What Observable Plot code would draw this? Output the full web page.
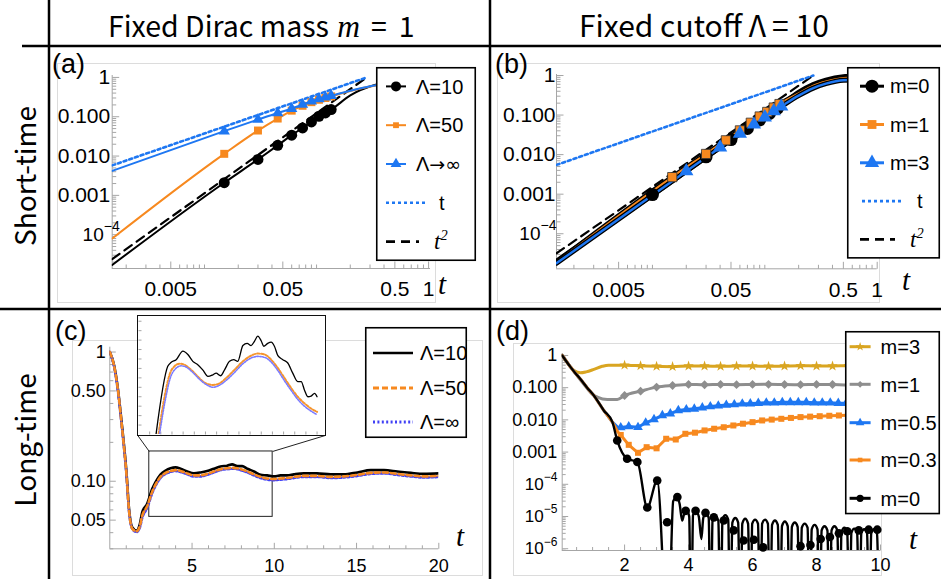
<!DOCTYPE html>
<html><head><meta charset="utf-8">
<script src="https://cdn.jsdelivr.net/npm/d3@7"></script>
<script src="https://cdn.jsdelivr.net/npm/@observablehq/plot@0.6"></script>
<style>
body{margin:0;background:#fff;}
#root{position:relative;width:941px;height:579px;overflow:hidden;background:#fff;}
</style></head>
<body><div id="root"></div>
<script>
// ---------------- DATA ----------------
// Panel (a): fixed Dirac mass m=1, short time  [t, value]
const aLam10 = [[0.0015,1.7e-5],[0.015,0.0021],[0.03,0.0082],[0.045,0.0187],[0.06,0.034],[0.075,0.052],[0.09,0.074],[0.105,0.103],[0.12,0.125],[0.135,0.152],[0.2,0.35],[0.33,0.64],[0.45,0.78],[0.6,0.87],[0.8,0.92],[1.04,0.94]];
const aLam50 = [[0.0015,8e-5],[0.015,0.0114],[0.03,0.0446],[0.045,0.09],[0.06,0.143],[0.075,0.19],[0.09,0.235],[0.105,0.27],[0.12,0.3],[0.135,0.33],[0.2,0.45],[0.3,0.59],[0.5,0.72],[1.04,0.79]];
const aLamInf = [[0.0015,0.0042],[0.015,0.043],[0.03,0.085],[0.045,0.125],[0.06,0.161],[0.075,0.204],[0.09,0.247],[0.105,0.282],[0.12,0.312],[0.135,0.344],[0.2,0.46],[0.3,0.6],[0.5,0.73],[1.04,0.8]];
const aRefT = [[0.0015,0.0058],[0.28,1.0]];
const aRefT2 = [[0.0015,2.4e-5],[0.28,1.0]];
const aMarkRange = [0.01, 0.14];
const aYLabels = [{v:1,s:"1"},{v:0.1,s:"0.100"},{v:0.01,s:"0.010"},{v:0.001,s:"0.001"},{v:1e-4,s:"10",exp:"−4"}];
const abXLabels = [{v:0.005,s:"0.005"},{v:0.05,s:"0.05"},{v:0.5,s:"0.5"},{v:1,s:"1"}];

// Panel (b): fixed cutoff Λ=10, short time
const bM0 = [[0.0014,2.0e-5],[0.01,0.00098],[0.03,0.0088],[0.05,0.024],[0.07,0.046],[0.09,0.075],[0.11,0.11],[0.13,0.15],[0.2,0.37],[0.27,0.58],[0.35,0.75],[0.5,0.92],[0.6,0.95],[0.75,0.93],[1.0,0.86]];
const bM1 = [[0.0014,1.9e-5],[0.015,0.0027],[0.03,0.0104],[0.045,0.023],[0.06,0.041],[0.075,0.064],[0.09,0.092],[0.105,0.12],[0.12,0.155],[0.135,0.19],[0.2,0.35],[0.27,0.55],[0.35,0.7],[0.5,0.86],[0.6,0.88],[0.75,0.86],[1.0,0.8]];
const bM3 = [[0.0014,1.8e-5],[0.02,0.0038],[0.04,0.0152],[0.06,0.034],[0.08,0.058],[0.1,0.088],[0.12,0.125],[0.14,0.165],[0.2,0.31],[0.27,0.48],[0.35,0.62],[0.5,0.76],[0.6,0.77],[0.75,0.74],[1.0,0.66]];
const bRefT = [[0.0014,0.0055],[0.27,1.0]];
const bRefT2 = [[0.0014,3.2e-5],[0.27,1.0]];
const bMarkRange = [0.005, 0.15];

// Panel (c): fixed m=1, long time
const cLam10 = [[0,1.0],[0.25,0.8],[0.45,0.57],[0.75,0.262],[1.02,0.114],[1.16,0.063],[1.36,0.044],[1.62,0.0415],[1.83,0.0468],[1.97,0.0575],[2.27,0.0668],[2.58,0.0873],[2.78,0.0984],[3.08,0.1127],[3.39,0.121],[3.69,0.126],[4.0,0.128],[4.3,0.125],[4.71,0.119],[5.11,0.1153],[5.52,0.117],[5.92,0.12],[6.33,0.125],[6.73,0.13],[7.14,0.132],[7.44,0.135],[7.75,0.131],[8.05,0.131],[8.36,0.125],[8.76,0.119],[9.17,0.112],[9.57,0.111],[9.98,0.109],[10.38,0.111],[10.79,0.111],[11.19,0.113],[11.8,0.115],[12.6,0.115],[13.42,0.113],[14.23,0.113],[15.05,0.117],[15.86,0.122],[16.67,0.122],[17.48,0.119],[18.3,0.116],[19.1,0.114],[20,0.115]];
const cLam50 = [[0,1.0],[0.25,0.79],[0.45,0.56],[0.75,0.255],[1.02,0.11],[1.16,0.061],[1.36,0.043],[1.62,0.041],[1.83,0.045],[1.97,0.054],[2.27,0.064],[2.58,0.083],[2.78,0.094],[3.08,0.108],[3.39,0.116],[3.69,0.12],[4.0,0.122],[4.3,0.12],[4.71,0.115],[5.11,0.111],[5.52,0.111],[5.92,0.114],[6.33,0.119],[6.73,0.124],[7.14,0.126],[7.44,0.127],[7.75,0.126],[8.05,0.123],[8.36,0.119],[8.76,0.113],[9.17,0.108],[9.57,0.105],[9.98,0.104],[10.38,0.105],[10.79,0.106],[11.19,0.108],[11.8,0.11],[12.6,0.11],[13.42,0.108],[14.23,0.109],[15.05,0.112],[15.86,0.116],[16.67,0.117],[17.48,0.114],[18.3,0.111],[19.1,0.109],[20,0.11]];
const cLamInf = [[0,1.0],[0.25,0.78],[0.45,0.55],[0.75,0.25],[1.02,0.108],[1.16,0.06],[1.36,0.043],[1.62,0.0405],[1.83,0.044],[1.97,0.052],[2.27,0.062],[2.58,0.081],[2.78,0.092],[3.08,0.106],[3.39,0.114],[3.69,0.118],[4.0,0.12],[4.3,0.118],[4.71,0.113],[5.11,0.109],[5.52,0.109],[5.92,0.112],[6.33,0.117],[6.73,0.122],[7.14,0.124],[7.44,0.125],[7.75,0.124],[8.05,0.121],[8.36,0.117],[8.76,0.111],[9.17,0.106],[9.57,0.103],[9.98,0.102],[10.38,0.103],[10.79,0.104],[11.19,0.106],[11.8,0.108],[12.6,0.108],[13.42,0.106],[14.23,0.107],[15.05,0.11],[15.86,0.114],[16.67,0.115],[17.48,0.112],[18.3,0.109],[19.1,0.107],[20,0.108]];
const cZoomBox = [{t1:2.4, t2:9.9, y1:0.053, y2:0.17}];
const cConnectors = [{t1:2.4,y1:0.17,t2:1.7,y2:0.226},{t1:9.9,y1:0.17,t2:13.1,y2:0.226}];
const cYLabels = [{v:1,s:"1"},{v:0.5,s:"0.50"},{v:0.1,s:"0.10"},{v:0.05,s:"0.05"}];
const cXLabels = [{v:5,s:"5"},{v:10,s:"10"},{v:15,s:"15"},{v:20,s:"20"}];
// inset of (c)
const insetLam10 = [[3.11,0.0903],[3.58,0.1189],[3.72,0.1206],[3.92,0.1217],[4.19,0.1253],[4.39,0.1239],[4.59,0.121],[4.79,0.1196],[4.99,0.1174],[5.2,0.1146],[5.4,0.1153],[5.53,0.116],[5.71,0.1149],[5.87,0.1174],[6.07,0.121],[6.24,0.1217],[6.4,0.121],[6.61,0.1277],[6.78,0.1286],[6.94,0.1277],[7.08,0.1296],[7.21,0.1317],[7.35,0.1296],[7.45,0.1274],[7.61,0.1286],[7.75,0.1291],[7.88,0.1274],[8.02,0.1234],[8.22,0.1217],[8.42,0.1203],[8.62,0.116],[8.82,0.1124],[8.96,0.1124],[9.09,0.1089],[9.23,0.106],[9.36,0.1063],[9.5,0.1074],[9.6,0.106]];
const insetLam50 = [[3.21,0.0903],[3.45,0.106],[3.65,0.1153],[3.85,0.1189],[4.05,0.12],[4.25,0.1196],[4.52,0.1174],[4.79,0.1146],[5.06,0.112],[5.4,0.111],[5.67,0.1117],[5.93,0.1139],[6.27,0.1174],[6.61,0.121],[6.94,0.1234],[7.21,0.1243],[7.48,0.1239],[7.75,0.1217],[8.02,0.1181],[8.29,0.1139],[8.56,0.1096],[8.82,0.106],[9.09,0.1032],[9.36,0.101],[9.6,0.0996]];
const insetLamInf = [[3.25,0.0903],[3.48,0.1046],[3.68,0.1139],[3.88,0.1177],[4.12,0.1191],[4.32,0.1186],[4.59,0.1163],[4.86,0.1134],[5.13,0.1112],[5.4,0.11],[5.67,0.1109],[5.93,0.1129],[6.27,0.1163],[6.61,0.12],[6.94,0.1224],[7.21,0.1231],[7.48,0.1227],[7.75,0.1207],[8.02,0.1171],[8.29,0.1127],[8.56,0.1086],[8.82,0.1049],[9.09,0.102],[9.36,0.0999],[9.6,0.0984]];

// Panel (d): fixed Λ=10, long time
const dM3 = [[0.05,1],[0.3,0.45],[0.42,0.34],[0.62,0.29],[0.8,0.31],[1.04,0.37],[1.3,0.46],[1.5,0.5],[2.0,0.5],[2.5,0.48],[3.0,0.46],[3.5,0.45],[4.0,0.47],[4.5,0.47],[5.0,0.46],[5.5,0.47],[6.0,0.47],[6.5,0.46],[7.0,0.47],[7.5,0.48],[8.0,0.47],[8.5,0.47],[9.0,0.48],[9.5,0.47],[10,0.47]];
const dM1 = [[0.05,1],[0.3,0.45],[0.45,0.29],[0.63,0.17],[0.83,0.095],[1.0,0.062],[1.15,0.051],[1.46,0.043],[1.77,0.043],[2.0,0.057],[2.5,0.078],[3.0,0.104],[3.5,0.117],[4.0,0.126],[4.5,0.123],[5.0,0.126],[5.5,0.124],[6.0,0.126],[6.5,0.127],[7.0,0.125],[7.5,0.124],[8.0,0.126],[8.5,0.125],[9.0,0.122],[9.5,0.124],[10,0.125]];
const dM05 = [[0.05,1],[0.3,0.45],[0.45,0.29],[0.63,0.18],[0.83,0.1],[1.04,0.057],[1.35,0.0196],[1.62,0.0085],[1.79,0.0059],[1.88,0.0058],[2.13,0.0062],[2.42,0.0059],[2.66,0.0081],[2.92,0.0103],[3.18,0.0138],[3.43,0.0156],[3.68,0.0196],[3.93,0.021],[4.18,0.022],[4.43,0.024],[4.68,0.026],[4.93,0.0275],[5.18,0.029],[5.43,0.03],[5.68,0.0316],[5.93,0.032],[6.18,0.033],[6.43,0.034],[6.68,0.034],[6.93,0.035],[7.18,0.035],[7.43,0.035],[7.68,0.035],[7.93,0.034],[8.18,0.034],[8.43,0.034],[8.68,0.033],[8.93,0.033],[9.18,0.033],[9.43,0.032],[9.68,0.032],[9.93,0.032]];
const dM03 = [[0.05,1],[0.3,0.45],[0.45,0.29],[0.63,0.18],[0.83,0.1],[1.04,0.057],[1.35,0.0196],[1.62,0.0085],[1.79,0.0042],[1.88,0.0034],[2.13,0.00168],[2.42,0.00095],[2.69,0.00142],[3.0,0.00131],[3.3,0.00259],[3.6,0.00246],[3.9,0.0037],[4.2,0.004],[4.5,0.0047],[4.8,0.0053],[5.1,0.0059],[5.4,0.0067],[5.7,0.0076],[6.0,0.0085],[6.3,0.0096],[6.6,0.0102],[6.9,0.0108],[7.2,0.0115],[7.5,0.0122],[7.8,0.0126],[8.1,0.013],[8.4,0.0134],[8.7,0.0137],[9.0,0.014],[9.3,0.0141],[9.6,0.0142],[9.9,0.0143]];
const dM0 = [[0.05,1],[0.3,0.45],[0.45,0.29],[0.63,0.18],[0.83,0.1],[1.04,0.057],[1.35,0.0196],[1.62,0.0085],[1.77,0.0023],[2.08,6.2e-4],[2.4,4.9e-4],[2.71,1.9e-5],[3.02,1.3e-4],[3.36,1e-9],
  [3.52,3e-5],[3.63,4e-5],[3.72,2.5e-5],[3.8,7.5e-6],[3.86,1.2e-5],[3.94,1.6e-5],[4.02,1e-5],[4.08,1e-9],
  [4.14,1.1e-5],[4.23,1.5e-5],[4.32,1e-5],[4.4,2e-6],[4.46,9e-6],[4.54,1.3e-5],[4.63,9e-6],[4.69,1e-9],
  [4.75,7.5e-6],[4.84,1e-5],[4.93,7.5e-6],[5.0,1e-9],[5.06,8e-6],[5.15,1.1e-5],[5.24,8e-6],[5.3,1e-9],
  [5.37,6.5e-6],[5.46,9e-6],[5.55,6.5e-6],[5.62,1e-9],[5.68,6e-6],[5.77,8.5e-6],[5.86,6e-6],[5.93,1e-9],
  [5.99,6e-6],[6.08,8e-6],[6.17,6e-6],[6.24,1e-9],[6.3,6e-6],[6.39,8e-6],[6.48,6e-6],[6.55,1e-9],
  [6.61,5.5e-6],[6.7,7.5e-6],[6.79,5.5e-6],[6.86,1e-9],[6.92,5e-6],[7.01,7e-6],[7.1,5e-6],[7.17,1e-9],
  [7.23,4.8e-6],[7.32,6.5e-6],[7.41,4.8e-6],[7.48,1e-9],[7.54,4.5e-6],[7.63,6e-6],[7.72,4.5e-6],[7.79,1e-9],
  [7.85,4e-6],[7.94,5.5e-6],[8.03,4e-6],[8.1,1e-9],[8.16,3.7e-6],[8.25,5e-6],[8.34,3.7e-6],[8.41,1e-9],
  [8.47,3.7e-6],[8.56,5e-6],[8.65,3.7e-6],[8.72,1e-9],[8.78,3.3e-6],[8.87,4.5e-6],[8.96,3.3e-6],[9.03,1e-9],
  [9.09,3.1e-6],[9.18,4.2e-6],[9.27,3.1e-6],[9.34,1e-9],[9.4,3e-6],[9.49,4e-6],[9.58,3e-6],[9.65,1e-9],
  [9.71,3e-6],[9.8,4e-6],[9.89,3e-6],[9.96,1e-9]];
const dM0Markers = [[1.77,0.0023],[2.08,6.2e-4],[2.4,4.9e-4],[2.71,1.9e-5],[3.02,1.3e-4],[3.33,6.6e-6],[3.65,4e-5],[3.91,1.5e-5],[4.22,1.5e-5],[4.53,1.3e-5],[4.79,9.4e-6],[5.1,7.5e-6],[5.41,3.7e-6],[5.72,1.8e-6],[6.04,1.9e-6],[6.33,1.1e-6],[7.5,1.2e-6],[7.81,1.3e-6],[8.13,2e-6],[8.42,2.3e-6],[8.7,3e-6],[8.96,3.5e-6],[9.32,3.7e-6],[9.63,3.9e-6],[9.9,3.9e-6]];
const dMarkStart = 1.85;
const dYLabels = [{v:1,s:"1"},{v:0.1,s:"0.100"},{v:0.01,s:"0.010"},{v:0.001,s:"0.001"},{v:1e-4,s:"10",exp:"−4"},{v:1e-5,s:"10",exp:"−5"},{v:1e-6,s:"10",exp:"−6"}];
const dXLabels = [{v:2,s:"2"},{v:4,s:"4"},{v:6,s:"6"},{v:8,s:"8"},{v:10,s:"10"}];

// ---------------- STYLE ----------------
const FONT = '"Liberation Sans", Arial, Helvetica, sans-serif';
const SERIF = '"Liberation Serif", "DejaVu Serif", "Times New Roman", serif';
const HFONT = '"Noto Sans CJK JP", "Noto Sans", sans-serif';
const BLACK = "#000", ORANGE = "#f7891f", BLUE = "#1e77f2", DBLUE = "#4040f5", GOLD = "#d9a521", GRAY = "#8e8e8e";
const TICK = "#a6a6a6";

const root = document.getElementById("root");
const toObj = arr => arr.map(([t, y]) => ({t, y}));
const hTick = len => ({draw(c){ c.moveTo(0,0); c.lineTo(len,0); }});
const vTick = len => ({draw(c){ c.moveTo(0,0); c.lineTo(0,-len); }});

function axisMarks(o) {
  const yAll = o.yTicks, xAll = o.xTicks;
  const yMaj = o.yLabels.map(d => d.v), xMaj = o.xLabels.map(d => d.v);
  const near = (a, list) => list.some(b => Math.abs(a - b) / Math.max(Math.abs(b), 1e-12) < 1e-6);
  const yMin = yAll.filter(v => !near(v, yMaj)), xMin = xAll.filter(v => !near(v, xMaj));
  const tk = {stroke: TICK, fill: "none", strokeWidth: 1};
  const plain = o.yLabels.filter(d => !d.exp), pow = o.yLabels.filter(d => d.exp);
  return [
    Plot.ruleX([o.xDom[0]], {stroke: TICK, strokeWidth: 1}),
    Plot.ruleY([o.yDom[0]], {stroke: TICK, strokeWidth: 1}),
    Plot.dot(yMin, {y: d => d, frameAnchor: "left", symbol: hTick(o.minorLen), ...tk}),
    Plot.dot(yMaj, {y: d => d, frameAnchor: "left", symbol: hTick(o.majorLen), ...tk}),
    Plot.dot(xMin, {x: d => d, frameAnchor: "bottom", symbol: vTick(o.minorLen), ...tk}),
    Plot.dot(xMaj, {x: d => d, frameAnchor: "bottom", symbol: vTick(o.majorLen), ...tk}),
    Plot.text(plain, {y: "v", text: "s", frameAnchor: "left", textAnchor: "end", dx: o.yDx, fontSize: o.fs, fill: "#000"}),
    Plot.text(pow, {y: "v", text: "s", frameAnchor: "left", textAnchor: "end", dx: o.expDx, fontSize: o.powFs, fill: "#000"}),
    Plot.text(pow, {y: "v", text: "exp", frameAnchor: "left", textAnchor: "start", dx: o.expDx, dy: o.expDy, fontSize: o.expFs, fill: "#000"}),
    Plot.text(o.xLabels, {x: "v", text: "s", frameAnchor: "bottom", lineAnchor: "top", dy: o.xDy, fontSize: o.fs, fill: "#000"})
  ];
}
function place(el, left, top) {
  el.style.position = "absolute"; el.style.left = left + "px"; el.style.top = top + "px";
  root.appendChild(el); return el;
}
const logTicks = dom => d3.scaleLog().domain(dom).ticks();
const inRange = (arr, lo, hi) => toObj(arr).filter(d => d.t >= lo && d.t <= hi);
const pstyle = {background: "transparent", overflow: "visible", fontFamily: FONT};

// ---------------- BACKGROUND LAYER ----------------
const bg = d3.create("svg").attr("width", 941).attr("height", 579).style("position","absolute").style("left","0px").style("top","0px");
const frames = [[57,63,378,239],[497,63,382,239],[72,340,410,235],[513,343,368,232]];
for (const [x,y,w,h] of frames) bg.append("rect").attr("x",x+0.5).attr("y",y+0.5).attr("width",w).attr("height",h).attr("fill","none").attr("stroke","#dcdcdc");
const divs = [[49,0,49,579],[490,0,490,579],[22,46,941,46],[0,309,941,309]];
for (const [x1,y1,x2,y2] of divs) bg.append("line").attr("x1",x1).attr("y1",y1).attr("x2",x2).attr("y2",y2).attr("stroke","#000").attr("stroke-width",2.5);
function hdr(x, fs, parts) {
  const t = bg.append("text").attr("x", x).attr("y", 37).attr("text-anchor","start").attr("font-family",HFONT).attr("font-size",fs).style("white-space","pre");
  for (const p of parts) {
    const s = t.append("tspan").text(p.t);
    if (p.m) s.attr("font-family",SERIF).attr("font-style","italic").attr("font-size",fs + 3);
    if (p.dx) s.attr("dx", p.dx);
  }
}
hdr(108, 28.5, [{t:"Fixed Dirac mass "},{t:"m",m:true,dx:2},{t:"=",dx:11},{t:"1",dx:12}]);
hdr(579, 30, [{t:"Fixed cutoff Λ"},{t:"=",dx:6},{t:"10",dx:7}]);
for (const [label, cy] of [["Short-time",176],["Long-time",440]])
  bg.append("text").attr("transform",`translate(26,${cy}) rotate(-90)`).attr("text-anchor","middle").attr("dy","0.35em").attr("font-family",HFONT).attr("font-size",28).text(label);
for (const [label, x, y] of [["(a)",52,73],["(b)",495,73],["(c)",55,340],["(d)",496,340]])
  bg.append("text").attr("x",x).attr("y",y).attr("font-family",FONT).attr("font-size",27).text(label);
for (const [x, y] of [[438,294],[902,290],[456,546],[909,549]])
  bg.append("text").attr("x",x).attr("y",y).attr("font-family",SERIF).attr("font-style","italic").attr("font-size",29).text("t");
root.appendChild(bg.node());

// ---------------- PANEL (a) ----------------
const aX = [0.0015, 1.04], aY = [1.38e-5, 1.12];
place(Plot.plot({
  width: 400, height: 245, marginLeft: 61.7, marginRight: 20, marginTop: 20, marginBottom: 32,
  x: {type: "log", domain: aX, axis: null}, y: {type: "log", domain: aY, axis: null},
  style: pstyle,
  marks: [
    ...axisMarks({xDom: aX, yDom: aY, xTicks: logTicks(aX), yTicks: logTicks(aY), xLabels: abXLabels, yLabels: aYLabels,
      fs: 21, powFs: 19, expFs: 14, yDx: -2, expDx: -8.5, expDy: -8, xDy: 13, majorLen: 7, minorLen: 4}),
    Plot.line(toObj(aRefT2), {x: "t", y: "y", stroke: BLACK, strokeWidth: 2.2, strokeDasharray: "9,6", clip: true}),
    Plot.line(toObj(aRefT), {x: "t", y: "y", stroke: BLUE, strokeWidth: 2.6, strokeDasharray: "3,3", clip: true}),
    Plot.line(toObj(aLam10), {x: "t", y: "y", stroke: BLACK, strokeWidth: 2, curve: "monotone-x", clip: true}),
    Plot.dot(inRange(aLam10, ...aMarkRange), {x: "t", y: "y", symbol: "circle", r: 5.5, fill: BLACK, stroke: "none"}),
    Plot.line(toObj(aLam50), {x: "t", y: "y", stroke: ORANGE, strokeWidth: 2, curve: "monotone-x", clip: true}),
    Plot.dot(inRange(aLam50, ...aMarkRange), {x: "t", y: "y", symbol: "square", r: 4.5, fill: ORANGE, stroke: "none"}),
    Plot.line(toObj(aLamInf), {x: "t", y: "y", stroke: BLUE, strokeWidth: 2, curve: "monotone-x", clip: true}),
    Plot.dot(inRange(aLamInf, ...aMarkRange), {x: "t", y: "y", symbol: "triangle", r: 4.2, fill: BLUE, stroke: "none"})
  ]
}), 50, 55);

// ---------------- PANEL (b) ----------------
const bX = [0.0014, 1.0], bY = [1.3e-5, 1.06];
place(Plot.plot({
  width: 420, height: 245, marginLeft: 66, marginRight: 33.3, marginTop: 19, marginBottom: 31.7,
  x: {type: "log", domain: bX, axis: null}, y: {type: "log", domain: bY, axis: null},
  style: pstyle,
  marks: [
    ...axisMarks({xDom: bX, yDom: bY, xTicks: logTicks(bX), yTicks: logTicks(bY), xLabels: abXLabels, yLabels: aYLabels,
      fs: 21, powFs: 19, expFs: 14, yDx: -1, expDx: -16, expDy: -8, xDy: 13.5, majorLen: 7, minorLen: 4}),
    Plot.line(toObj(bRefT2), {x: "t", y: "y", stroke: BLACK, strokeWidth: 2.2, strokeDasharray: "9,6", clip: true}),
    Plot.line(toObj(bRefT), {x: "t", y: "y", stroke: BLUE, strokeWidth: 2.6, strokeDasharray: "3,3", clip: true}),
    Plot.line(toObj(bM0), {x: "t", y: "y", stroke: BLACK, strokeWidth: 5.5, curve: "monotone-x", clip: true}),
    Plot.line(toObj(bM1), {x: "t", y: "y", stroke: BLACK, strokeWidth: 5, curve: "monotone-x", clip: true}),
    Plot.line(toObj(bM1), {x: "t", y: "y", stroke: ORANGE, strokeWidth: 2.4, curve: "monotone-x", clip: true}),
    Plot.line(toObj(bM3), {x: "t", y: "y", stroke: BLACK, strokeWidth: 5, curve: "monotone-x", clip: true}),
    Plot.line(toObj(bM3), {x: "t", y: "y", stroke: BLUE, strokeWidth: 2.4, curve: "monotone-x", clip: true}),
    Plot.dot(inRange(bM0, ...bMarkRange), {x: "t", y: "y", symbol: "circle", r: 6.5, fill: BLACK, stroke: "none"}),
    Plot.dot(inRange(bM1, ...bMarkRange), {x: "t", y: "y", symbol: "square", r: 5.2, fill: ORANGE, stroke: "#333", strokeWidth: 0.8}),
    Plot.dot(inRange(bM3, ...bMarkRange), {x: "t", y: "y", symbol: "triangle", r: 5.3, fill: BLUE, stroke: "none"})
  ]
}), 490, 55);

// ---------------- PANEL (c) ----------------
const cX = [0, 20], cY = [0.03, 1.09];
place(Plot.plot({
  width: 400, height: 250, marginLeft: 59.3, marginRight: 11.7, marginTop: 26.7, marginBottom: 21.7,
  x: {type: "linear", domain: cX, axis: null}, y: {type: "log", domain: cY, axis: null},
  style: pstyle,
  marks: [
    ...axisMarks({xDom: cX, yDom: cY, xTicks: d3.range(1, 21), yTicks: logTicks(cY), xLabels: cXLabels, yLabels: cYLabels,
      fs: 18, powFs: 16, expFs: 12, yDx: -4, expDx: -10, expDy: -7, xDy: 10.5, majorLen: 6, minorLen: 3.5}),
    Plot.rect(cZoomBox, {x1: "t1", x2: "t2", y1: "y1", y2: "y2", fill: "none", stroke: "#222", strokeWidth: 1}),
    Plot.link(cConnectors, {x1: "t1", y1: "y1", x2: "t2", y2: "y2", stroke: "#222", strokeWidth: 1}),
    Plot.line(toObj(cLam10), {x: "t", y: "y", stroke: BLACK, strokeWidth: 2.6, curve: "monotone-x", clip: true}),
    Plot.line(toObj(cLamInf), {x: "t", y: "y", stroke: DBLUE, strokeWidth: 2.6, strokeDasharray: "2,2.2", curve: "monotone-x", clip: true}),
    Plot.line(toObj(cLam50), {x: "t", y: "y", stroke: ORANGE, strokeWidth: 2.6, strokeDasharray: "5,3", curve: "monotone-x", clip: true})
  ]
}), 50, 320);

// inset
const insetBox = document.createElement("div");
insetBox.style.cssText = "position:absolute;left:137px;top:315px;width:189px;height:121px;border:1.6px solid #111;background:#fff;box-sizing:border-box;";
root.appendChild(insetBox);
const iX = [2.4, 9.9], iY = [0.09, 0.14];
const insetSvg = Plot.plot({
  width: 186, height: 118, margin: 0,
  x: {type: "linear", domain: iX, axis: null}, y: {type: "linear", domain: iY, axis: null},
  style: pstyle,
  marks: [
    Plot.dot(d3.range(0.094, 0.139, 0.004), {y: d => d, frameAnchor: "left", symbol: hTick(3), stroke: TICK, fill: "none", strokeWidth: 1}),
    Plot.dot(d3.range(2.85, 9.8, 0.45), {x: d => d, frameAnchor: "bottom", symbol: vTick(3), stroke: TICK, fill: "none", strokeWidth: 1}),
    Plot.line(toObj(insetLam10), {x: "t", y: "y", stroke: BLACK, strokeWidth: 1.3, curve: "monotone-x", clip: true}),
    Plot.line(toObj(insetLam50), {x: "t", y: "y", stroke: "#f5952e", strokeWidth: 2, strokeDasharray: "2.5,1.8", curve: "monotone-x", clip: true}),
    Plot.line(toObj(insetLamInf), {x: "t", y: "y", stroke: "#7b7bff", strokeWidth: 1.6, strokeDasharray: "1.4,1.4", curve: "monotone-x", clip: true})
  ]
});
insetSvg.style.position = "absolute"; insetSvg.style.left = "0px"; insetSvg.style.top = "0px";
insetBox.appendChild(insetSvg);

// ---------------- PANEL (d) ----------------
const dX = [0.05, 10], dY = [8.8e-7, 1.15];
place(Plot.plot({
  width: 420, height: 250, marginLeft: 71.7, marginRight: 30, marginTop: 33, marginBottom: 20,
  x: {type: "linear", domain: dX, axis: null}, y: {type: "log", domain: dY, axis: null},
  style: pstyle,
  marks: [
    ...axisMarks({xDom: dX, yDom: dY, xTicks: d3.range(0.5, 10.01, 0.5), yTicks: logTicks(dY), xLabels: dXLabels, yLabels: dYLabels,
      fs: 18, powFs: 17, expFs: 12, yDx: -5, expDx: -18.5, expDy: -7, xDy: 7.5, majorLen: 6, minorLen: 3.5}),
    Plot.line(toObj(dM3), {x: "t", y: "y", stroke: GOLD, strokeWidth: 3, curve: "monotone-x", clip: true}),
    Plot.dot(inRange(dM3, dMarkStart, 10.1), {x: "t", y: "y", symbol: "star", r: 3.3, fill: GOLD, stroke: "none"}),
    Plot.line(toObj(dM1), {x: "t", y: "y", stroke: GRAY, strokeWidth: 3, curve: "monotone-x", clip: true}),
    Plot.dot(inRange(dM1, dMarkStart, 10.1), {x: "t", y: "y", symbol: "diamond2", r: 4, fill: GRAY, stroke: "none"}),
    Plot.line(toObj(dM05), {x: "t", y: "y", stroke: BLUE, strokeWidth: 3, clip: true}),
    Plot.dot(inRange(dM05, dMarkStart, 10.1), {x: "t", y: "y", symbol: "triangle", r: 3.6, fill: BLUE, stroke: "none"}),
    Plot.line(toObj(dM03), {x: "t", y: "y", stroke: ORANGE, strokeWidth: 3, clip: true}),
    Plot.dot(inRange(dM03, dMarkStart, 10.1), {x: "t", y: "y", symbol: "square", r: 3.4, fill: ORANGE, stroke: "none"}),
    Plot.line(toObj(dM0), {x: "t", y: "y", stroke: BLACK, strokeWidth: 2.4, curve: "monotone-x", clip: true}),
    Plot.dot(toObj(dM0Markers), {x: "t", y: "y", symbol: "circle", r: 4.3, fill: BLACK, stroke: "none"})
  ]
}), 490, 320);

// ---------------- LEGENDS ----------------
const SYMS = {circle: d3.symbolCircle, square: d3.symbolSquare, triangle: d3.symbolTriangle, star: d3.symbolStar, diamond2: d3.symbolDiamond2};
function makeLegend({left, top, width, height, fs = 20, rows}) {
  const svg = d3.create("svg").attr("width", width).attr("height", height)
    .style("position","absolute").style("left", left + "px").style("top", top + "px").style("overflow","visible");
  svg.append("rect").attr("x",0.75).attr("y",0.75).attr("width",width-1.5).attr("height",height-1.5).attr("fill","#fff").attr("stroke","#000").attr("stroke-width",1.6);
  for (const r of rows) {
    svg.append("line").attr("x1",r.x1).attr("x2",r.x2).attr("y1",r.cy).attr("y2",r.cy)
      .attr("stroke",r.stroke).attr("stroke-width",r.sw).attr("stroke-dasharray",r.dash || null);
    if (r.sym) svg.append("path").attr("d", d3.symbol(SYMS[r.sym], Math.PI * r.r * r.r)())
      .attr("transform",`translate(${r.sx ?? (r.x1 + r.x2) / 2},${r.cy})`).attr("fill", r.stroke);
    const tx = svg.append("text").attr("x", r.tx).attr("y", r.cy).attr("dy","0.36em").attr("font-size", fs).attr("font-family", FONT).attr("fill","#000");
    for (const p of r.label) {
      const ts = tx.append("tspan").text(p.t);
      if (p.serif) ts.attr("font-family", SERIF).attr("font-style","italic").attr("font-size", fs * 1.15);
      if (p.sym) ts.attr("font-family", '"DejaVu Sans", sans-serif').attr("font-size", fs * 0.95);
      if (p.sup) ts.attr("font-size", fs * 0.72).attr("dy","-0.6em");
    }
  }
  root.appendChild(svg.node());
}
const tSq = [{t:"t", serif:true},{t:"2", sup:true, serif:true}];
makeLegend({left: 376, top: 67, width: 100, height: 194, rows: [
  {cy: 19.4, x1: 10, x2: 30, stroke: BLACK, sw: 2, sym: "circle", r: 5, tx: 40, label: [{t:"Λ=10"}]},
  {cy: 58.2, x1: 10, x2: 30, stroke: ORANGE, sw: 2, sym: "square", r: 3.3, tx: 40, label: [{t:"Λ=50"}]},
  {cy: 97, x1: 10, x2: 30, stroke: BLUE, sw: 2, sym: "triangle", r: 4, tx: 40, label: [{t:"Λ"},{t:"→∞", sym:true}]},
  {cy: 135.8, x1: 10, x2: 50, stroke: BLUE, sw: 2.6, dash: "3,3", tx: 63, label: [{t:"t"}]},
  {cy: 174.6, x1: 10, x2: 43, stroke: BLACK, sw: 2.6, dash: "9,6", tx: 58, label: tSq}
]});
makeLegend({left: 846.7, top: 66.7, width: 93, height: 191.6, rows: [
  {cy: 19.2, x1: 13, x2: 37, stroke: BLACK, sw: 3, sym: "circle", r: 6.5, tx: 43, label: [{t:"m=0"}]},
  {cy: 57.5, x1: 13, x2: 37, stroke: ORANGE, sw: 3, sym: "square", r: 5, tx: 43, label: [{t:"m=1"}]},
  {cy: 95.8, x1: 13, x2: 37, stroke: BLUE, sw: 3, sym: "triangle", r: 5.3, tx: 43, label: [{t:"m=3"}]},
  {cy: 134.1, x1: 15, x2: 55, stroke: BLUE, sw: 2.6, dash: "3,3", tx: 70, label: [{t:"t"}]},
  {cy: 172.4, x1: 13, x2: 48, stroke: BLACK, sw: 2.6, dash: "9,6", tx: 63, label: tSq}
]});
makeLegend({left: 365, top: 327, width: 102, height: 111, rows: [
  {cy: 26, x1: 8, x2: 48, stroke: BLACK, sw: 2.6, tx: 55, label: [{t:"Λ=10"}]},
  {cy: 61, x1: 8, x2: 48, stroke: ORANGE, sw: 3, dash: "6,3", tx: 55, label: [{t:"Λ=50"}]},
  {cy: 95, x1: 8, x2: 48, stroke: DBLUE, sw: 3, dash: "2,2.4", tx: 55, label: [{t:"Λ=∞"}]}
]});
makeLegend({left: 844.7, top: 331, width: 95, height: 183.3, rows: [
  {cy: 15.7, x1: 4.6, x2: 25.6, stroke: GOLD, sw: 3, sym: "star", r: 2.8, tx: 35.6, label: [{t:"m=3"}]},
  {cy: 53.3, x1: 4.6, x2: 25.6, stroke: GRAY, sw: 3, sym: "diamond2", r: 3, tx: 35.6, label: [{t:"m=1"}]},
  {cy: 91.7, x1: 4.6, x2: 25.6, stroke: BLUE, sw: 3, sym: "triangle", r: 3.2, tx: 35.6, label: [{t:"m=0.5"}]},
  {cy: 129, x1: 4.6, x2: 25.6, stroke: ORANGE, sw: 3, sym: "square", r: 2.6, tx: 35.6, label: [{t:"m=0.3"}]},
  {cy: 167.3, x1: 4.6, x2: 25.6, stroke: BLACK, sw: 3, sym: "circle", r: 3.6, tx: 35.6, label: [{t:"m=0"}]}
]});
</script>
</body></html>
